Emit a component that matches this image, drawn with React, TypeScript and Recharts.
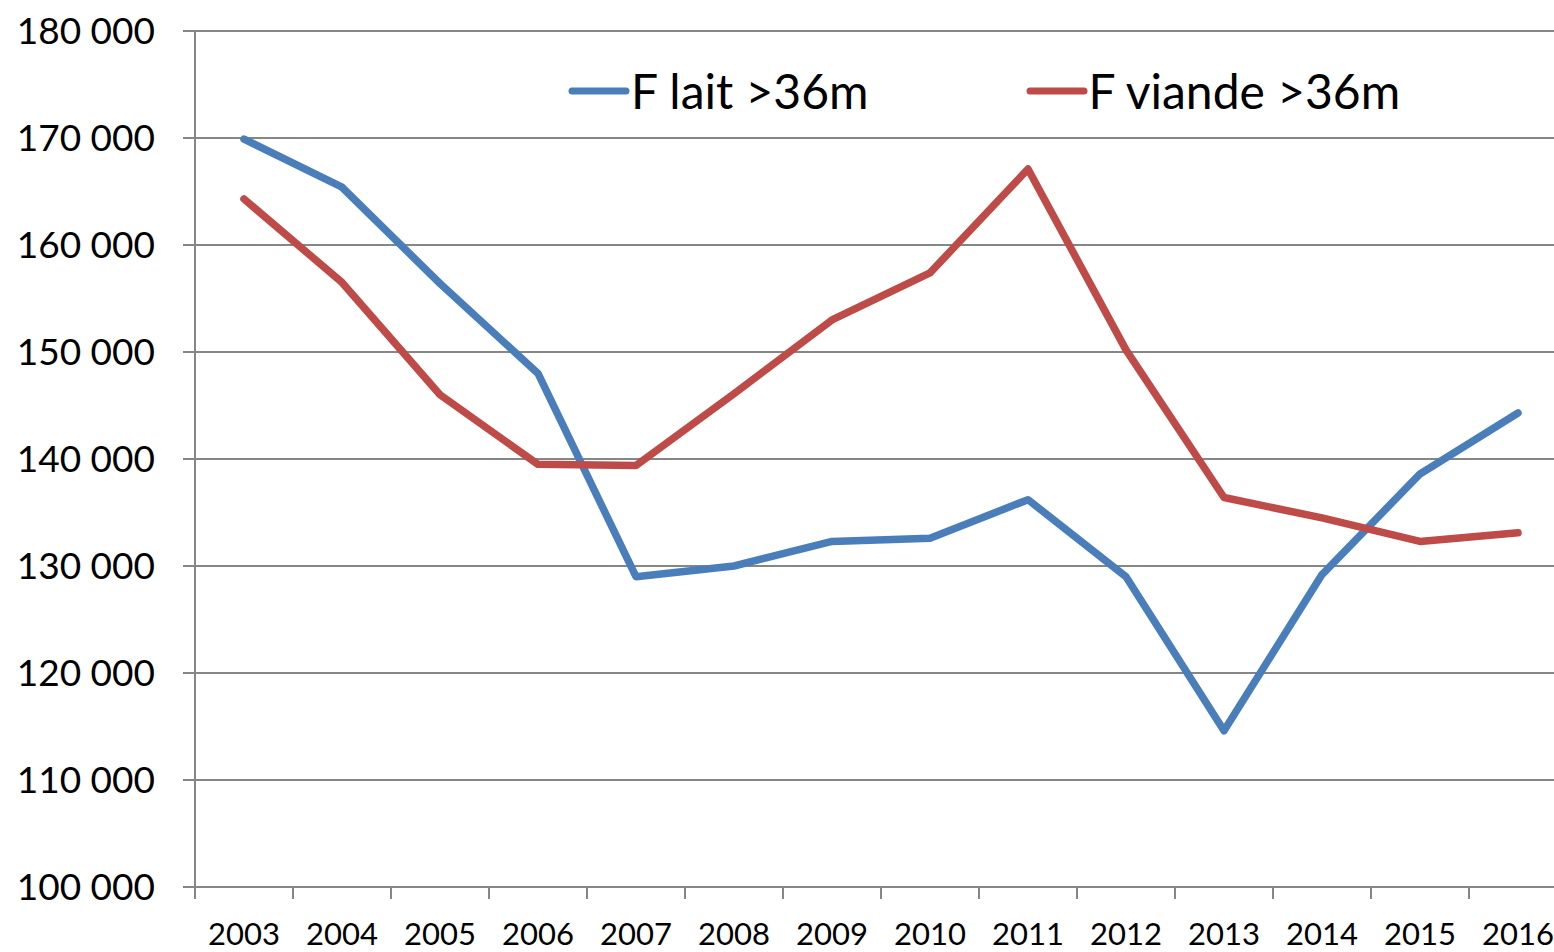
import { LineChart, Line, XAxis, YAxis, CartesianGrid } from 'recharts';

const years = ['2003', '2004', '2005', '2006', '2007', '2008', '2009', '2010', '2011', '2012', '2013', '2014', '2015', '2016'];
const laitValues = [169900, 165400, 156400, 148000, 129000, 130000, 132300, 132600, 136200, 129000, 114600, 129200, 138600, 144300];
const viandeValues = [164300, 156500, 146000, 139500, 139400, 146100, 153000, 157400, 167100, 150200, 136400, 134500, 132300, 133100];
const yTicks = [100000, 110000, 120000, 130000, 140000, 150000, 160000, 170000, 180000];

const data = years.map((year, i) => ({
  year,
  lait: laitValues[i],
  viande: viandeValues[i],
}));

const CHART_W = 1600;
const CHART_H = 952;
const MARGIN = { top: 31, right: 33, bottom: 0, left: 0 };
const Y_AXIS_W = 195;
const X_AXIS_H = 65;
const AXIS_Y = CHART_H - MARGIN.bottom - X_AXIS_H;
const HALF_BAND = (CHART_W - MARGIN.left - MARGIN.right - Y_AXIS_W) / years.length / 2;

const GRAY = '#868686';
const BLUE = '#4a7ebb';
const RED = '#be4b48';
const FONT = 'Lato, "Open Sans", sans-serif';

const fmt = (v: number) => String(v).replace(/\B(?=(\d{3})+(?!\d))/g, ' ');

// category label centred in its band, tick mark on the band boundary (Excel style)
function YearTick(props: any) {
  const { x, payload } = props;
  const bx = x - HALF_BAND;
  return (
    <g>
      <line x1={bx} y1={AXIS_Y} x2={bx} y2={AXIS_Y + 12} stroke={GRAY} strokeWidth={2} />
      <text x={x} y={AXIS_Y + 58} textAnchor="middle" fontSize={31} fill="#000" fontFamily={FONT}>
        {payload.value}
      </text>
    </g>
  );
}

const legendItems = [
  { label: 'F lait >36m', color: BLUE, gap: 0 },
  { label: 'F viande >36m', color: RED, gap: 156 },
];

function ChartLegend() {
  return (
    <div
      style={{
        position: 'absolute',
        top: 62,
        left: 567,
        display: 'flex',
        alignItems: 'center',
        fontFamily: FONT,
        fontSize: 48,
        lineHeight: '58px',
        color: '#000',
      }}
    >
      {legendItems.map((item) => (
        <div key={item.label} style={{ display: 'flex', alignItems: 'center', marginLeft: item.gap }}>
          <svg width={64} height={20} style={{ marginRight: 0 }}>
            <line x1={5} y1={10} x2={59} y2={10} stroke={item.color} strokeWidth={7} strokeLinecap="round" />
          </svg>
          <span>{item.label}</span>
        </div>
      ))}
    </div>
  );
}

export default function App() {
  return (
    <div style={{ position: 'fixed', left: 0, top: 0, width: 1554, height: 952, overflow: 'hidden', background: '#fff' }}>
      <LineChart width={CHART_W} height={CHART_H} data={data} margin={MARGIN}>
        <CartesianGrid vertical={false} stroke={GRAY} strokeWidth={2} />
        <XAxis
          dataKey="year"
          scale="band"
          height={X_AXIS_H}
          axisLine={{ stroke: GRAY, strokeWidth: 2 }}
          tickLine={false}
          tick={<YearTick />}
          interval={0}
        />
        <YAxis
          width={Y_AXIS_W}
          domain={[100000, 180000]}
          ticks={yTicks}
          tickFormatter={fmt}
          axisLine={{ stroke: GRAY, strokeWidth: 2 }}
          tickLine={{ stroke: GRAY, strokeWidth: 2 }}
          tickSize={12}
          tickMargin={28}
          tick={{ fontSize: 37, fill: '#000', fontFamily: FONT }}
        />
        <Line type="linear" dataKey="lait" stroke={BLUE} strokeWidth={7.5} dot={false} strokeLinecap="round" strokeLinejoin="round" isAnimationActive={false} />
        <Line type="linear" dataKey="viande" stroke={RED} strokeWidth={7.5} dot={false} strokeLinecap="round" strokeLinejoin="round" isAnimationActive={false} />
      </LineChart>
      <ChartLegend />
    </div>
  );
}
